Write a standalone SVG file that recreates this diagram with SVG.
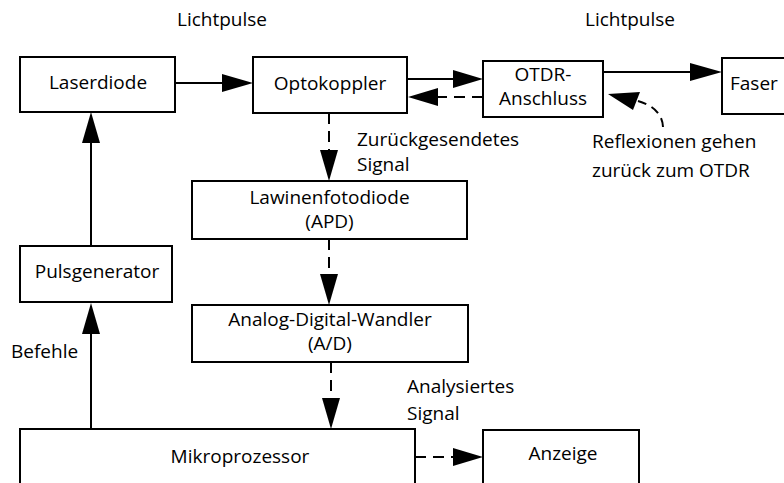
<svg xmlns="http://www.w3.org/2000/svg" width="784" height="483" viewBox="0 0 784 483">
  <style>
    .box { fill: #fff; stroke: #000; stroke-width: 2; }
    .lbl { font-family: "Open Sans", "DejaVu Sans", sans-serif; font-size: 19px; fill: #000; }
    .mid { text-anchor: middle; }
    .ln { fill: none; stroke: #000; stroke-width: 2; }
    .dash { stroke-dasharray: 11 7; }
    .head { fill: #000; }
  </style>
  <rect width="784" height="483" fill="#fff"/>

  <!-- connectors -->
  <g id="connectors">
    <!-- Laserdiode -> Optokoppler -->
    <line class="ln" x1="175" y1="83" x2="224" y2="83"/>
    <polygon class="head" points="253,83 222,74 222,92"/>
    <!-- Optokoppler -> OTDR-Anschluss -->
    <line class="ln" x1="407" y1="79" x2="455" y2="79"/>
    <polygon class="head" points="483,79 453,70 453,88"/>
    <!-- OTDR-Anschluss -> Optokoppler (return, dashed) -->
    <line class="ln dash" x1="483" y1="97" x2="436" y2="97"/>
    <polygon class="head" points="408,97 438,88 438,106"/>
    <!-- OTDR-Anschluss -> Faser -->
    <line class="ln" x1="603" y1="72" x2="692" y2="72"/>
    <polygon class="head" points="722,72 690,63 690,81"/>
    <!-- reflections back to the OTDR -->
    <path class="ln" stroke-dasharray="9 6" d="M663,127 Q662,108 638,101"/>
    <polygon class="head" points="608,94 640,92 633,110"/>
    <!-- Optokoppler -> APD (dashed) -->
    <line class="ln dash" x1="329" y1="113" x2="329" y2="152"/>
    <polygon class="head" points="329,181 320,150 338,150"/>
    <!-- APD -> A/D (dashed) -->
    <line class="ln dash" x1="329" y1="239" x2="329" y2="276"/>
    <polygon class="head" points="329,305 320,274 338,274"/>
    <!-- A/D -> Mikroprozessor (dashed) -->
    <line class="ln dash" x1="331" y1="362" x2="331" y2="400"/>
    <polygon class="head" points="331,429 322,398 340,398"/>
    <!-- Mikroprozessor -> Anzeige (dashed) -->
    <line class="ln dash" x1="415" y1="457" x2="455" y2="457"/>
    <polygon class="head" points="483,457 453,448 453,466"/>
    <!-- Mikroprozessor -> Pulsgenerator -->
    <line class="ln" x1="91" y1="429" x2="91" y2="332"/>
    <polygon class="head" points="91,303 82,334 100,334"/>
    <!-- Pulsgenerator -> Laserdiode -->
    <line class="ln" x1="91" y1="246" x2="91" y2="141"/>
    <polygon class="head" points="91,112 82,143 100,143"/>
  </g>

  <!-- connector labels -->
  <g id="labels">
    <text class="lbl mid" x="222" y="26">Lichtpulse</text>
    <text class="lbl mid" x="630" y="26">Lichtpulse</text>
    <text class="lbl" x="592" y="148">Reflexionen gehen</text>
    <text class="lbl" x="592" y="177">zurück zum OTDR</text>
    <text class="lbl" x="357" y="146">Zurückgesendetes</text>
    <text class="lbl" x="357" y="171">Signal</text>
    <text class="lbl" x="407" y="393">Analysiertes</text>
    <text class="lbl" x="407" y="420">Signal</text>
    <text class="lbl" x="11" y="358">Befehle</text>
  </g>

  <g id="laserdiode">
    <rect class="box" x="20" y="57" width="155" height="55"/>
    <text class="lbl mid" x="98" y="89">Laserdiode</text>
  </g>
  <g id="optokoppler">
    <rect class="box" x="253" y="57" width="154" height="56"/>
    <text class="lbl mid" x="330" y="90">Optokoppler</text>
  </g>
  <g id="otdr-anschluss">
    <rect class="box" x="483" y="61" width="120" height="56"/>
    <text class="lbl mid" x="543" y="81">OTDR-</text>
    <text class="lbl mid" x="543" y="105">Anschluss</text>
  </g>
  <g id="faser">
    <rect class="box" x="722" y="58" width="80" height="56"/>
    <text class="lbl" x="730" y="90">Faser</text>
  </g>
  <g id="apd">
    <rect class="box" x="192" y="181" width="275" height="58"/>
    <text class="lbl mid" x="329.5" y="204">Lawinenfotodiode</text>
    <text class="lbl mid" x="329.5" y="228">(APD)</text>
  </g>
  <g id="ad-wandler">
    <rect class="box" x="192" y="305" width="276" height="57"/>
    <text class="lbl mid" x="330" y="326">Analog-Digital-Wandler</text>
    <text class="lbl mid" x="330" y="350">(A/D)</text>
  </g>
  <g id="pulsgenerator">
    <rect class="box" x="20" y="246" width="152" height="56"/>
    <text class="lbl mid" x="97" y="278">Pulsgenerator</text>
  </g>
  <g id="mikroprozessor">
    <rect class="box" x="20" y="429" width="395" height="70"/>
    <text class="lbl mid" x="240" y="463">Mikroprozessor</text>
  </g>
  <g id="anzeige">
    <rect class="box" x="483" y="430" width="156" height="70"/>
    <text class="lbl mid" x="563" y="460">Anzeige</text>
  </g>
</svg>
